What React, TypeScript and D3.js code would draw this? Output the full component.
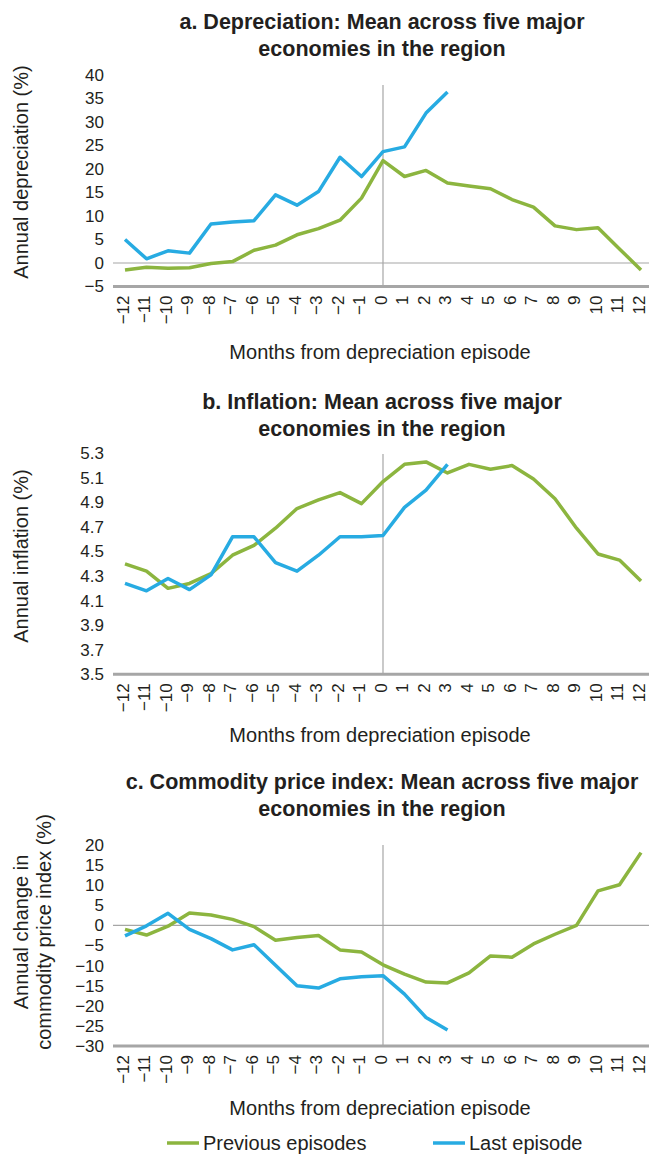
import * as d3 from 'd3';
import React from 'react';

// months from the depreciation episode
const months = d3.range(-12, 13);

// panel a: annual depreciation (%)
const deprPrevious = [-1.5, -0.9, -1.1, -1.0, -0.1, 0.3, 2.7, 3.8, 6.0, 7.3, 9.1, 13.8, 21.8,
  18.4, 19.7, 17.0, 16.4, 15.8, 13.5, 11.9, 7.9, 7.1, 7.5, 3.0, -1.5];
const deprLast = [5.0, 0.9, 2.6, 2.1, 8.3, 8.7, 9.0, 14.5, 12.3, 15.2, 22.5, 18.4, 23.7,
  24.7, 31.9, 36.4];
const deprTicks = [-5, 0, 5, 10, 15, 20, 25, 30, 35, 40];

// panel b: annual inflation (%)
const inflPrevious = [4.40, 4.34, 4.20, 4.24, 4.32, 4.47, 4.55, 4.69, 4.85, 4.92, 4.98, 4.89, 5.07,
  5.21, 5.23, 5.14, 5.21, 5.17, 5.20, 5.09, 4.93, 4.69, 4.48, 4.43, 4.26];
const inflLast = [4.24, 4.18, 4.28, 4.19, 4.31, 4.62, 4.62, 4.41, 4.34, 4.47, 4.62, 4.62, 4.63,
  4.86, 5.00, 5.21];
const inflTicks = [3.5, 3.7, 3.9, 4.1, 4.3, 4.5, 4.7, 4.9, 5.1, 5.3];

// panel c: annual change in commodity price index (%)
const commPrevious = [-1.0, -2.4, -0.2, 3.1, 2.6, 1.5, -0.3, -3.7, -3.0, -2.5, -6.1, -6.6, -9.8,
  -12.1, -14.1, -14.3, -11.8, -7.6, -7.9, -4.6, -2.2, 0.0, 8.6, 10.1, 18.1];
const commLast = [-2.6, -0.1, 3.0, -1.0, -3.3, -6.1, -4.8, -9.9, -15.0, -15.6, -13.3, -12.8, -12.5,
  -17.1, -22.9, -26.0];
const commTicks = [-30, -25, -20, -15, -10, -5, 0, 5, 10, 15, 20];

const GREEN = '#8cb53f';
const BLUE = '#27abe2';
const TEXT = '#231f20';
const FONT = '"Liberation Sans", Arial, sans-serif';

const fmtMinus = (v: number) => (v < 0 ? '\u2212' + Math.abs(v) : String(v));

const x = d3.scaleLinear().domain([-12, 12]).range([125, 641]);

const panels = [
  {
    title: ['a. Depreciation: Mean across five major', 'economies in the region'],
    titleY: 29,
    yTitle: ['Annual depreciation (%)'],
    yTitleCenter: 172,
    domain: [-5, 40], range: [286.5, 75], ticks: deprTicks, fmt: (v: number) => fmtMinus(v),
    vTop: 85,
    prev: deprPrevious, last: deprLast,
    xLabelY: 359,
  },
  {
    title: ['b. Inflation: Mean across five major', 'economies in the region'],
    titleY: 409,
    yTitle: ['Annual inflation (%)'],
    yTitleCenter: 556,
    domain: [3.5, 5.3], range: [674.3, 453.3], ticks: inflTicks, fmt: (v: number) => v.toFixed(1),
    vTop: 454,
    prev: inflPrevious, last: inflLast,
    xLabelY: 742,
  },
  {
    title: ['c. Commodity price index: Mean across five major', 'economies in the region'],
    titleY: 789,
    yTitle: ['Annual change in', 'commodity price index (%)'],
    yTitleCenter: 932,
    domain: [-30, 20], range: [1046, 845], ticks: commTicks, fmt: (v: number) => fmtMinus(v),
    vTop: 845,
    prev: commPrevious, last: commLast,
    xLabelY: 1115,
  },
];

function Panel({ p }: { p: typeof panels[number] }) {
  const y = d3.scaleLinear().domain(p.domain).range(p.range);
  const line = d3.line<number>().x((_, i) => x(months[i])).y(d => y(d));
  const axisY = y(p.domain[0]);
  const hasZero = p.domain[0] < 0;

  return (
    <g>
      {p.title.map((t, i) => (
        <text key={i} x={382} y={p.titleY + i * 27} textAnchor="middle"
          fontWeight="bold" fontSize={21.5} fill={TEXT}>{t}</text>
      ))}
      {p.yTitle.map((t, i) => (
        <text key={i} transform={`translate(${28 + i * 23},${p.yTitleCenter}) rotate(-90)`}
          textAnchor="middle" fontSize={20} fill={TEXT}>{t}</text>
      ))}
      {p.ticks.map(t => (
        <text key={t} x={104} y={y(t)} dy="0.35em" textAnchor="end" fontSize={17} fill={TEXT}>{p.fmt(t)}</text>
      ))}
      {hasZero && <line x1={113} x2={649} y1={y(0)} y2={y(0)} stroke="#a6a6a6" strokeWidth={1.2} />}
      <line x1={x(0)} x2={x(0)} y1={p.vTop} y2={axisY} stroke="#a6a6a6" strokeWidth={1.2} />
      <line x1={113} x2={649} y1={axisY} y2={axisY} stroke="#a6a6a6" strokeWidth={3} />
      {months.map(m => (
        <text key={m} transform={`translate(${x(m) - 1},${axisY + 9}) rotate(-90)`} dy="0.28em"
          textAnchor="end" fontSize={17} fill={TEXT}>{fmtMinus(m)}</text>
      ))}
      <path d={line(p.prev) ?? ''} fill="none" stroke={GREEN} strokeWidth={3.5} strokeLinejoin="round" />
      <path d={line(p.last) ?? ''} fill="none" stroke={BLUE} strokeWidth={3.5} strokeLinejoin="round" />
      <text x={380} y={p.xLabelY} textAnchor="middle" fontSize={20} fill={TEXT}>Months from depreciation episode</text>
    </g>
  );
}

export default function App() {
  return (
    <svg width={649} height={1155} style={{ position: 'absolute', left: 0, top: 0, background: '#fff' }}
      fontFamily={FONT}>
      {panels.map((p, i) => <Panel key={i} p={p} />)}
      <g>
        <line x1={167} x2={199} y1={1143} y2={1143} stroke={GREEN} strokeWidth={3.5} />
        <text x={203} y={1143} dy="0.35em" fontSize={20} fill={TEXT}>Previous episodes</text>
        <line x1={433} x2={465} y1={1143} y2={1143} stroke={BLUE} strokeWidth={3.5} />
        <text x={469} y={1143} dy="0.35em" fontSize={20} fill={TEXT}>Last episode</text>
      </g>
    </svg>
  );
}
